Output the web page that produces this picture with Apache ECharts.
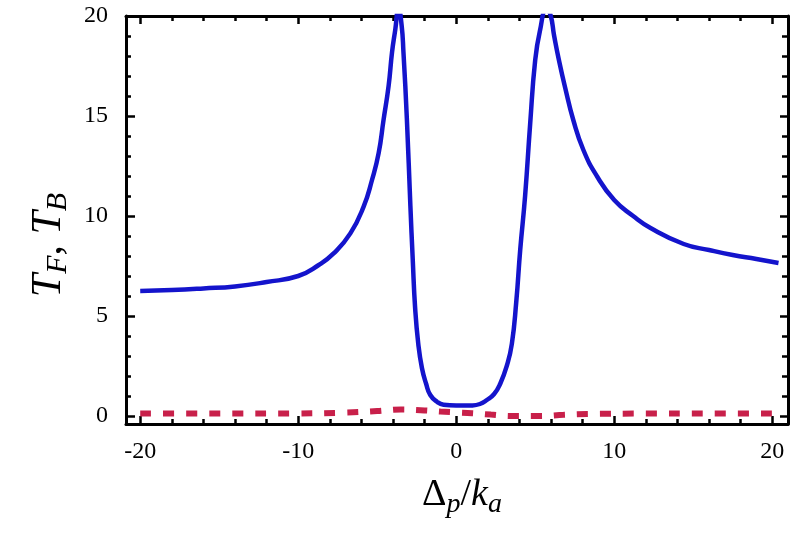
<!DOCTYPE html>
<html>
<head>
<meta charset="utf-8">
<script src="https://cdn.jsdelivr.net/npm/echarts@6/dist/echarts.min.js"></script>
<style>
html,body{margin:0;padding:0;background:#fff;}
#c{width:800px;height:536px;}
</style>
</head>
<body>
<div id="c"></div>
<script>
// T_F (blue solid)
const xF = [-20, -18, -16, -14, -12, -10, -8.7, -7.76, -6.7, -5.86, -5.33, -4.91, -4.6, -4.28, -4.06, -3.86, -3.65, -3.45, -3.34, -3.12, -2.9, -2.75, -2.6, -2.4, -2.17, -1.9, -1.64, -1.2, -0.8, 0, 1, 1.5, 1.94, 2.4, 2.78, 3.2, 3.52, 3.8, 4.05, 4.36, 4.68, 5.0, 5.31, 5.7, 5.95, 6.2, 6.5, 6.9, 7.41, 8.05, 8.9, 10, 11.2, 12.3, 14.4, 16, 17.5, 19, 20.4];
const TF = [6.25, 6.3, 6.38, 6.48, 6.7, 7.0, 7.55, 8.13, 9.13, 10.47, 11.8, 13.14, 14.8, 16.5, 18.2, 19.3, 20.4, 19.5, 18.2, 14.8, 10.5, 7.8, 5.4, 3.6, 2.4, 1.6, 1.05, 0.7, 0.56, 0.52, 0.53, 0.6, 0.8, 1.1, 1.6, 2.5, 3.6, 5.7, 8.3, 11, 14.6, 17.8, 19.3, 20.3, 20.1, 19.0, 17.8, 16.4, 14.8, 13.3, 12.0, 10.8, 10.0, 9.4, 8.6, 8.3, 8.05, 7.85, 7.65];
// T_B (red dashed)
const xB = [-20, -15, -10, -7, -5, -3.5, -2, -1, 0, 1, 2.2, 3.5, 5.3, 6.8, 8.3, 12, 16, 20.4];
const TB = [0.12, 0.12, 0.13, 0.17, 0.25, 0.33, 0.28, 0.22, 0.18, 0.14, 0.07, 0.0, 0.0, 0.06, 0.1, 0.12, 0.12, 0.12];
// ticks
const xMajor = [-20, -10, 0, 10, 20];
const xMinor = [-18, -16, -14, -12, -8, -6, -4, -2, 2, 4, 6, 8, 12, 14, 16, 18];
const yMajor = [0, 5, 10, 15, 20];
const yMinor = [1, 2, 3, 4, 6, 7, 8, 9, 11, 12, 13, 14, 16, 17, 18, 19];

const XMIN = -20.9, XMAX = 21, YMIN = -0.4, YMAX = 20;
const serif = 'Liberation Serif';
const lineBlack = { show: true, onZero: false, lineStyle: { color: '#000', width: 3 } };
const noLine = { show: false, onZero: false };

function xAxisDef(pos, ticks, len, withLine, withLabel) {
  return {
    type: 'value', position: pos, min: XMIN, max: XMAX,
    axisLine: withLine ? lineBlack : noLine,
    axisTick: { show: true, inside: true, length: len, customValues: ticks, lineStyle: { color: '#000', width: 2.5 } },
    axisLabel: withLabel ? { show: true, customValues: xMajor, margin: 16, fontFamily: serif, fontSize: 24, color: '#000' } : { show: false },
    splitLine: { show: false }
  };
}
function yAxisDef(pos, ticks, len, withLine, withLabel) {
  return {
    type: 'value', position: pos, min: YMIN, max: YMAX,
    axisLine: withLine ? lineBlack : noLine,
    axisTick: { show: true, inside: true, length: len, customValues: ticks, lineStyle: { color: '#000', width: 2.5 } },
    axisLabel: withLabel ? { show: true, customValues: yMajor, margin: 18, fontFamily: serif, fontSize: 24, color: '#000' } : { show: false },
    splitLine: { show: false }
  };
}

const xs = [
  xAxisDef('bottom', xMajor, 8, true, true),
  xAxisDef('bottom', xMinor, 5, false, false),
  xAxisDef('top', xMajor, 8, true, false),
  xAxisDef('top', xMinor, 5, false, false)
];
xs[0].name = '{d|Δ}{s|p}{n|/}{i|k}{s|a}';
xs[0].nameLocation = 'middle';
xs[0].nameGap = 46;
xs[0].nameTextStyle = {
  padding: [0, 0, 0, 10],
  rich: {
    d: { fontFamily: serif, fontSize: 38, color: '#000', lineHeight: 50, verticalAlign: 'middle' },
    n: { fontFamily: serif, fontSize: 38, color: '#000', lineHeight: 50, verticalAlign: 'middle' },
    i: { fontFamily: serif, fontSize: 38, fontStyle: 'italic', color: '#000', lineHeight: 50, verticalAlign: 'middle' },
    s: { fontFamily: serif, fontSize: 28, fontStyle: 'italic', color: '#000', lineHeight: 28, padding: [21, 0, 0, 0], verticalAlign: 'top' }
  }
};

const ys = [
  yAxisDef('left', yMajor, 9, true, true),
  yAxisDef('left', yMinor, 5, false, false),
  yAxisDef('right', yMajor, 8, true, false),
  yAxisDef('right', yMinor, 6, false, false)
];
ys[0].name = '{i|T}{s|F}{n|, }{i|T}{s|B}';
ys[0].nameLocation = 'middle';
ys[0].nameGap = 50;
ys[0].nameRotate = 90;
ys[0].nameTextStyle = {
  padding: [0, 50, 0, 0],
  rich: {
    n: { fontFamily: serif, fontSize: 42, color: '#000', lineHeight: 50, verticalAlign: 'middle' },
    i: { fontFamily: serif, fontSize: 42, fontStyle: 'italic', color: '#000', lineHeight: 50, verticalAlign: 'middle' },
    s: { fontFamily: serif, fontSize: 30, fontStyle: 'italic', color: '#000', lineHeight: 30, padding: [19, 0, 0, 0], verticalAlign: 'top' }
  }
};

const chart = echarts.init(document.getElementById('c'), null, { renderer: 'canvas' });
chart.setOption({
  animation: false,
  backgroundColor: '#fff',
  grid: { left: 126, top: 16, right: 12, bottom: 112, containLabel: false },
  xAxis: xs,
  yAxis: ys,
  series: [
    {
      type: 'line', name: 'TB', xAxisIndex: 0, yAxisIndex: 0,
      data: xB.map((x, i) => [x, TB[i]]),
      showSymbol: false, smooth: 0.4, clip: true,
      lineStyle: { color: '#c8204a', width: 6, type: [11, 12] }
    },
    {
      type: 'line', name: 'TF', xAxisIndex: 0, yAxisIndex: 0,
      data: xF.map((x, i) => [x, TF[i]]),
      showSymbol: false, smooth: 0.5, clip: true,
      lineStyle: { color: '#1414cc', width: 4.5 }
    }
  ]
});
</script>
</body>
</html>
